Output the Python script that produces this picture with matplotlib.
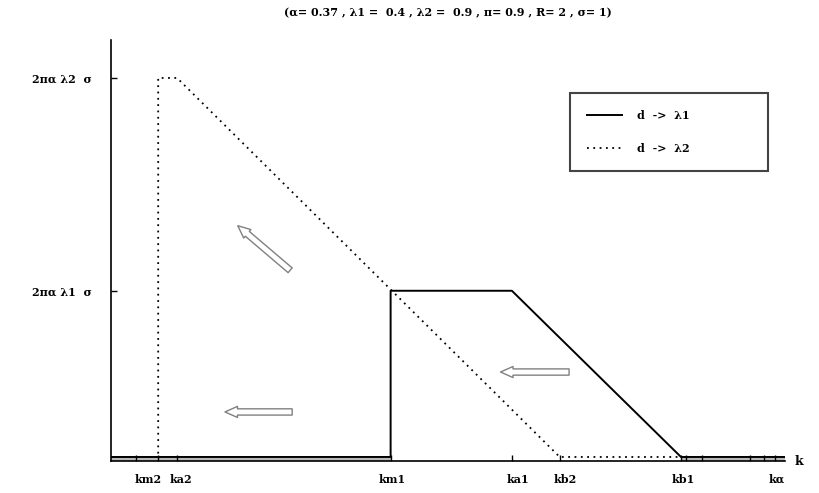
import numpy as np
import matplotlib
matplotlib.use('Agg')
import matplotlib.pyplot as plt
import matplotlib.transforms as mtransforms

# parameters shown in the title
alpha, lam1, lam2 = 0.37, 0.4, 0.9
level1 = 2 * np.pi * alpha * lam1   # 2 pi alpha lambda1 sigma
level2 = 2 * np.pi * alpha * lam2   # 2 pi alpha lambda2 sigma
low = 0.022                          # "zero" level of the curves, just above the axis

# k positions (arbitrary units, axis runs 0..10)
k_names = ['km2', 'ka2', 'km1', 'ka1', 'kb2', 'kb1', 'k\u03b1']
k_vals = [0.70, 0.98, 4.15, 5.95, 6.66, 8.46, 9.85]
k_minor = [0.37, 8.53, 8.77, 9.48, 9.69]
k_end = 10.0

# d -> lambda1 (solid)
x_solid = [0.0, 4.15, 4.15, 5.95, 8.46, k_end]
y_solid = [low, low, level1, level1, low, low]
# d -> lambda2 (dotted)
x_dot = [0.0, 0.70, 0.70, 0.98, 6.66, 8.46]
y_dot = [low, low, level2, level2, low, low]

# hollow arrows: (tail k, tail y, head k, head y)
arrows = [(2.73, 0.268, 1.65, 0.268),
          (6.84, 0.486, 5.74, 0.486),
          (2.69, 1.032, 1.85, 1.295)]

fnt = 'DejaVu Serif'
fig = plt.figure(figsize=(8.2, 4.93), dpi=100)
ax = fig.add_axes([0.1354, 0.0649, 0.957 - 0.1354, 0.919 - 0.0649])

# gray band where the solid curve lies on the bottom
ax.fill_between([0.0, 4.15], 0, low, color='#b8b8b8', lw=0)
ax.fill_between([8.46, k_end], 0, low, color='#b8b8b8', lw=0)

ax.plot(x_solid, y_solid, color='black', lw=1.4, label='d  ->  \u03bb1                ')
ax.plot(x_dot, y_dot, color='black', lw=1.3, ls=(0, (1, 2.5)), label='d  ->  \u03bb2                ')

for tx, ty, hx, hy in arrows:
    ax.annotate('', xy=(hx, hy), xytext=(tx, ty),
                arrowprops=dict(arrowstyle='simple,head_length=0.9,head_width=0.8,tail_width=0.45',
                                fc='white', ec='#808080', lw=1.0))

ax.set_xlim(0, k_end)
ax.set_ylim(0, 2.30)
ax.spines['top'].set_visible(False)
ax.spines['right'].set_visible(False)
ax.spines['left'].set_linewidth(1.2)
ax.spines['bottom'].set_linewidth(1.2)

ax.set_xticks(k_vals)
ax.set_xticklabels(k_names, fontsize=8, family=fnt, fontweight='bold')
ax.set_xticks(k_minor, minor=True)
ax.tick_params(axis='x', which='both', direction='in', length=4, width=1, pad=9)
# nudge the crowded labels apart
shifts = {'km2': -10, 'ka2': 4, 'ka1': 6, 'kb2': 5}
for lab in ax.get_xticklabels():
    dx = shifts.get(lab.get_text(), 2)
    lab.set_transform(lab.get_transform() +
                      mtransforms.ScaledTranslation(dx / 100, 0, fig.dpi_scale_trans))

ax.set_yticks([level1, level2])
ax.set_yticklabels(['2\u03c0\u03b1 \u03bb1  \u03c3', '2\u03c0\u03b1 \u03bb2  \u03c3'],
                   fontsize=8, family=fnt, fontweight='bold')
ax.tick_params(axis='y', direction='in', length=4, width=1, pad=14)

ax.text(1.015, 0.0, 'k', transform=ax.transAxes, fontsize=9, family=fnt,
        va='center', ha='left', fontweight='bold')

ax.set_title('(\u03b1= 0.37 , \u03bb1 =  0.4 , \u03bb2 =  0.9 , \u03c0= 0.9 , R= 2 , \u03c3= 1)',
             fontsize=8, family=fnt, fontweight='bold', pad=17)

leg = ax.legend(loc='upper right', bbox_to_anchor=(0.975, 0.874), fancybox=False,
                framealpha=1, edgecolor='#444444',
                prop={'family': fnt, 'size': 8, 'weight': 'bold'},
                handlelength=3.2, handletextpad=1.3, borderpad=1.5, labelspacing=2.0,
                borderaxespad=0)
leg.get_frame().set_linewidth(1.5)

fig.savefig('out.png', dpi=100)
